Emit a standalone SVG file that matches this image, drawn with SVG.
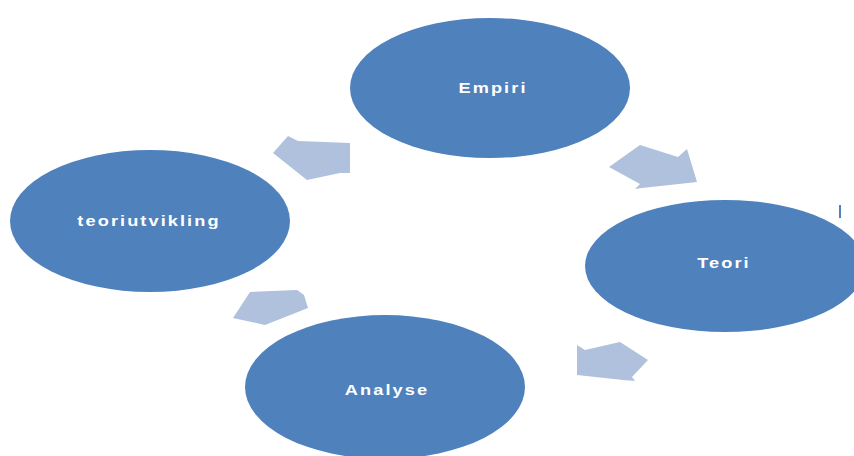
<svg xmlns="http://www.w3.org/2000/svg" width="854" height="456" viewBox="0 0 854 456">
<style>
.node{fill:#4F81BD}
.lbl{fill:#FFFFFF;font-family:"Liberation Sans",Arial,sans-serif;font-size:14px;font-weight:bold;text-anchor:middle;letter-spacing:1.6px}
.arr{fill:#AFC1DC}
</style>
<rect width="854" height="456" fill="#FFFFFF"/>
<g id="connectors">
<polygon class="arr" points="288,136 298,141 350,143 350,173 340,173 307,180 273,153"/>
<polygon class="arr" points="609,167 640,145 678,157 687,149 697,182 642,188 635,189 640,184"/>
<polygon class="arr" points="577,345 585,350 620,342 648,360 632,377 635,381 623,380 577,375"/>
<polygon class="arr" points="250,292 297,290 304,295 308,308 265,325 233,318"/>
</g>
<g id="empiri">
<ellipse class="node" cx="490" cy="88" rx="140" ry="70"/>
<text class="lbl" transform="translate(493,93) scale(1.3,1)" x="0" y="0">Empiri</text>
</g>
<g id="teoriutvikling">
<ellipse class="node" cx="150" cy="221" rx="140" ry="71"/>
<text class="lbl" transform="translate(149,226) scale(1.3,1)" x="0" y="0">teoriutvikling</text>
</g>
<g id="teori">
<ellipse class="node" cx="725" cy="266" rx="140" ry="66"/>
<text class="lbl" transform="translate(724,268) scale(1.3,1)" x="0" y="0">Teori</text>
</g>
<g id="analyse">
<ellipse class="node" cx="385" cy="387" rx="140" ry="72"/>
<text class="lbl" transform="translate(387,395) scale(1.3,1)" x="0" y="0">Analyse</text>
</g>
<rect x="839" y="205" width="2" height="13" fill="#4F81BD"/>
</svg>
